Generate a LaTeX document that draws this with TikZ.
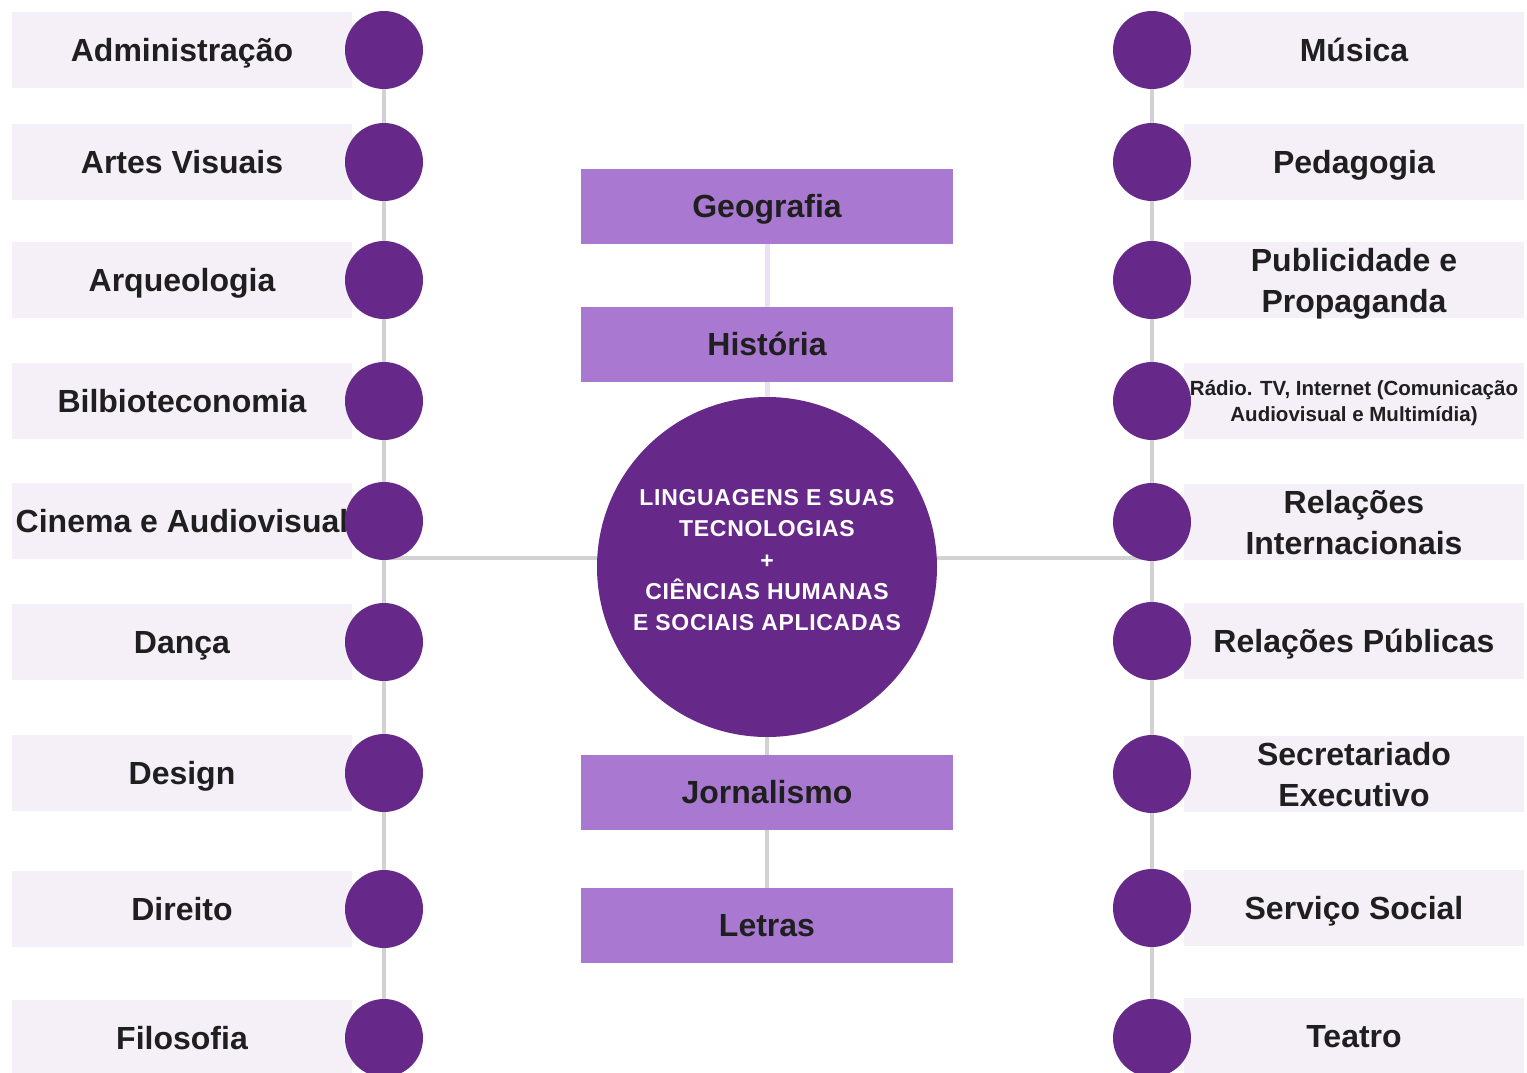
\documentclass[tikz,border=0pt]{standalone}
\usepackage{fontspec}
\setmainfont{Liberation Sans}
\newfontfamily\hubfont[LetterSpace=3]{Liberation Sans}
\usetikzlibrary{backgrounds}
\definecolor{lbox}{HTML}{F5F0F8}
\definecolor{dot}{HTML}{66298A}
\definecolor{mbox}{HTML}{A979D1}
\definecolor{lline}{HTML}{EEDFF5}
\definecolor{gline}{HTML}{D2D2D2}
\definecolor{ink}{HTML}{1F1F1F}
\tikzset{
  side/.style={fill=lbox, minimum width=340pt, minimum height=76pt, inner sep=0pt, align=center,
    text=ink, text depth=0pt, font=\fontsize{32}{41}\selectfont\bfseries},
  one/.style={text height=23pt, text depth=0pt},
  dotc/.style={circle, fill=dot, minimum size=78pt, inner sep=0pt},
  midbox/.style={fill=mbox, minimum width=372pt, minimum height=75pt, inner sep=0pt,
    text=ink, text height=23pt, text depth=0pt, font=\fontsize{32}{41}\selectfont\bfseries},
  gconn/.style={draw=gline, line width=4.5pt},
  lconn/.style={draw=lline, line width=5pt},
  hub/.style={circle, fill=dot, minimum size=340pt, inner sep=0pt, text=white, align=center,
    text depth=14pt, font=\fontsize{23}{31.3}\hubfont\bfseries}
}
\begin{document}
\begin{tikzpicture}[x=1pt,y=-1pt]
\useasboundingbox (0,0) rectangle (1527,1073);
% left column
\foreach \n/\y/\t in {1/50/Administração,2/162/Artes Visuais,3/280/Arqueologia,4/401/Bilbioteconomia,5/521/Cinema e Audiovisual,6/642/Dança,7/773/Design,8/909/Direito,9/1038/Filosofia}{
  \node[side, one] (lb\n) at (182,\y) {\t};
}
\foreach \n/\y in {1/50,2/162,3/280,4/401,5/521,6/642,7/773,8/909,9/1038}{
  \node[dotc] (ld\n) at (384,\y) {};
}
% right column
\node[side, one] (rb1) at (1354,50) {Música};
\node[side, one] (rb2) at (1354,162) {Pedagogia};
\node[side] (rb3) at (1354,280) {Publicidade e\\Propaganda};
\node[side, font=\fontsize{20.5}{26}\selectfont\bfseries] (rb4) at (1354,401) {Rádio. TV, Internet (Comunicação\\Audiovisual e Multimídia)};
\node[side] (rb5) at (1354,522) {Relações\\Internacionais};
\node[side, one] (rb6) at (1354,641) {Relações Públicas};
\node[side] (rb7) at (1354,774) {Secretariado\\Executivo};
\node[side, one] (rb8) at (1354,908) {Serviço Social};
\node[side, one] (rb9) at (1354,1036) {Teatro};
\foreach \n/\y in {1/50,2/162,3/280,4/401,5/522,6/641,7/774,8/908,9/1038}{
  \node[dotc] (rd\n) at (1152,\y) {};
}
% middle
\node[midbox] (geo) at (767,206) {Geografia};
\node[midbox] (his) at (767,344) {História};
\node[hub] (hub) at (767,567) {LINGUAGENS E SUAS\\TECNOLOGIAS\\+\\CIÊNCIAS HUMANAS\\E SOCIAIS APLICADAS};
\node[midbox] (jor) at (767,792) {Jornalismo};
\node[midbox] (let) at (767,925) {Letras};
\coordinate (jl) at (384,558);
\coordinate (jr) at (1152,558);
\begin{pgfonlayer}{background}
  \draw[gconn] (ld1.center) -- (ld9.center);
  \draw[gconn] (rd1.center) -- (rd9.center);
  \draw[gconn] (jl) -- (jl -| hub.center);
  \draw[gconn] (jr) -- (jr -| hub.center);
  \draw[lconn] (geo.center) -- (his.center);
  \draw[lconn] (his.center) -- (hub.center);
  \draw[gconn] (hub.center) -- (jor.center);
  \draw[gconn] (jor.center) -- (let.center);
\end{pgfonlayer}
\end{tikzpicture}
\end{document}
